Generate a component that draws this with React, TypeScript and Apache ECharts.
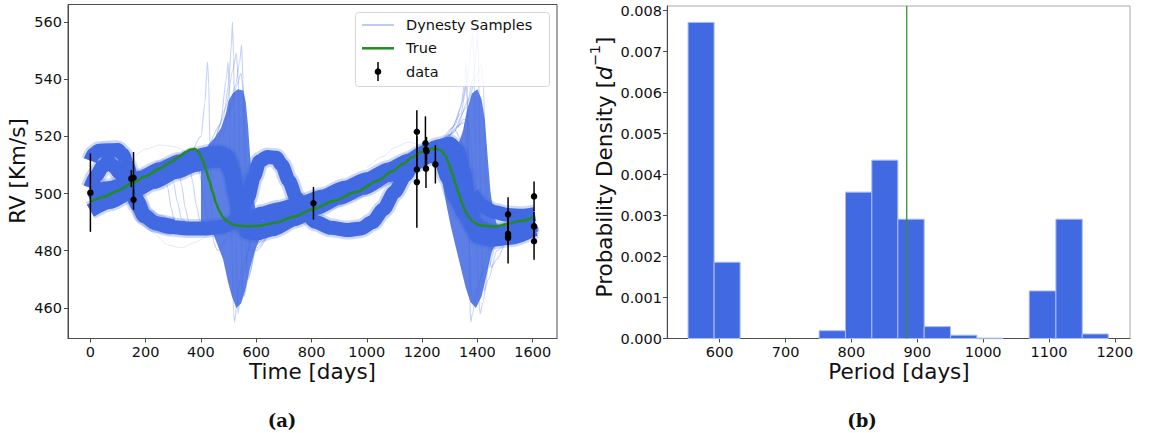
import React, { useEffect, useRef } from "react";
import * as echarts from "echarts";

// ---------- Observed RV data (days, km/s, error) ----------
const obsT = [0, 148, 156, 156, 807, 1181, 1181, 1181, 1212, 1214, 1216, 1214, 1248, 1511, 1511, 1511, 1511, 1605, 1605, 1605];
const obsRV = [500.3, 505.2, 505.5, 497.8, 496.6, 521.6, 508.4, 504.0, 517.6, 515.3, 514.8, 508.7, 510.2, 492.7, 485.9, 485.0, 484.5, 499.0, 488.5, 483.3];
const obsErr = [13.7, 3, 9, 3.5, 5.7, 7.5, 5, 16, 9.4, 4, 5, 6.8, 6.7, 6, 4, 3, 9, 5.2, 5, 6.5];

// ---------- True RV curve ----------
const trueT = [0, 50, 100, 148, 200, 250, 290, 320, 345, 362, 378, 392, 406, 418, 430, 442, 455, 467, 479, 495, 515, 540, 569, 610, 671, 740, 807, 880, 960, 1040, 1092, 1130, 1164, 1195, 1220, 1240, 1255, 1270, 1284, 1297, 1309, 1321, 1333, 1345, 1357, 1369, 1387, 1405, 1430, 1455, 1485, 1513, 1560, 1605];
const trueV = [497.0, 498.9, 501.0, 503.5, 506.0, 508.7, 510.9, 512.8, 514.5, 515.4, 515.6, 514.5, 511.8, 508.3, 504.6, 500.5, 496.5, 493.8, 491.8, 490.2, 489.2, 488.7, 488.5, 488.7, 489.9, 492.0, 494.6, 497.4, 500.5, 504.5, 507.8, 510.3, 512.6, 514.4, 515.3, 515.7, 515.6, 515.0, 513.3, 510.4, 507.0, 503.4, 499.8, 496.4, 493.7, 491.7, 490.0, 489.0, 488.6, 488.5, 488.8, 489.5, 490.5, 491.7];

// ---------- Dynesty sample curves (dense representative samples) ----------
const bandA = [[0,511.5],[12,513.8],[30,515],[100,515.2],[118,513.6],[135,509.5],[152,503.5],[170,497.5],[195,492.5],[230,489.8],[280,488.4],[350,487.8],[420,487.8],[470,488.3],[510,489.5],[545,493],[570,498.5],[592,506],[612,511.3],[640,512.8],[672,512.5],[692,510],[718,504.5],[745,498.5],[775,493.5],[815,490],[870,488],[930,487.2],[980,487.8],[1020,490],[1060,494.5],[1100,500.5],[1140,506.5],[1175,511.5],[1210,514.3],[1245,514.2],[1268,511.5],[1292,505.5],[1320,498.5],[1355,492.5],[1400,488.5],[1460,486.5],[1530,486.6],[1608,489.8]];
const bandA2 = [[0,502],[20,506.2],[45,509.5],[65,511.3],[85,509.5],[105,507.2],[125,505.3],[145,501.5],[170,496],[195,492],[240,489.5],[300,488.5]];
const bandB = [[0,497.5],[60,499.5],[130,502.5],[200,505.5],[280,509],[350,511.5],[420,513],[470,513.5],[500,512],[520,505],[535,496],[550,490],[575,487.5],[620,488],[700,491],[780,494.5],[860,497.5],[950,501],[1040,505],[1120,509],[1190,512.5],[1240,515],[1285,516],[1315,513],[1340,505],[1360,495],[1380,488.5],[1410,485.5],[1470,485.2],[1540,486.5],[1608,489]];
const bandC = [[0,500.5],[60,501.8],[120,503],[180,505.5],[250,508.5],[320,511.2],[380,513],[430,514],[470,514.3],[495,513],[515,508],[530,500],[545,492.5],[560,490.5],[580,491.5],[620,493],[680,494.5],[760,496.5],[840,499],[920,502],[1000,505],[1080,508.5],[1150,511.5],[1210,514.5],[1260,516.5],[1300,517.5],[1330,515],[1350,508],[1370,498],[1390,490],[1420,486.5],[1480,486.3],[1550,487.5],[1608,490]];
const bandD = [[0,494],[70,497],[150,500.5],[230,504],[310,507.5],[380,510],[440,511.5],[480,511.5],[505,508.5],[525,500],[545,491.5],[565,486.5],[600,486],[660,487.5],[740,491],[820,495],[900,498.5],[990,502],[1080,506.5],[1160,510],[1230,513],[1280,515],[1310,513],[1335,506],[1355,497],[1375,489.5],[1400,485],[1450,483.8],[1520,484.5],[1608,487.5]];
const bandE = [[1380,500],[1420,495.5],[1460,493.5],[1510,492.5],[1560,492.2],[1608,492.8]];

// dense envelopes of the high-eccentricity samples near periastron
const denseRegion1 = [[400,512],[420,516],[450,519.5],[473,523],[490,528],[500,532.5],[515,535],[533,536.5],[553,536],[562,532],[570,524],[578,513],[588,501],[600,492],[615,487],[610,483.5],[595,480],[578,474],[560,466],[545,461.5],[528,460],[512,464],[498,469],[480,477],[460,482],[440,487],[420,489],[400,490]];
const denseRegion2 = [[1270,514],[1300,515],[1330,517],[1348,522],[1362,529],[1380,535],[1400,536.5],[1415,533],[1427,526],[1437,513],[1447,501],[1458,493],[1475,488],[1470,484],[1450,479],[1432,471],[1415,464],[1395,460],[1375,462],[1358,467],[1340,474],[1320,482],[1305,488],[1290,495],[1275,503],[1265,510]];

// individual thin samples
const spike1 = [[440,515],[480,526],[500,538],[510,552],[514,560],[518,548],[522,520],[526,490],[530,468],[534,458],[540,462],[555,473],[580,484],[620,488]];
const spike2 = [[460,517],[500,528],[525,538],[540,546],[547,552],[552,540],[557,510],[562,485],[568,470],[576,472],[600,482],[640,487]];
const spike3 = [[420,514],[470,524],[492,540],[498,546],[503,535],[508,505],[513,478],[518,458],[522,455],[530,462],[550,475],[590,486]];
const spike4 = [[400,513],[450,519],[490,530],[515,543],[528,549],[535,540],[540,515],[545,488],[550,470],[556,464],[570,470],[600,481],[650,487]];
const spike5 = [[360,512],[400,520],[415,532],[421,543],[424,546],[428,538],[433,515],[438,495],[445,483],[460,480],[500,485],[540,488]];
const spike6 = [[480,520],[510,530],[530,538],[545,542],[555,535],[560,520],[565,500],[570,487],[578,480],[600,480],[640,485]];
const spike7 = [[1300,520],[1340,528],[1365,540],[1378,552],[1383,556],[1388,545],[1393,515],[1398,485],[1403,465],[1410,458],[1420,462],[1440,474],[1470,483],[1520,487]];
const spike8 = [[1320,522],[1360,530],[1385,540],[1396,550],[1400,557],[1404,547],[1408,520],[1413,490],[1418,472],[1425,466],[1440,470],[1470,480],[1520,486]];
const spike9 = [[1280,518],[1320,524],[1345,532],[1358,538],[1363,533],[1367,510],[1370,480],[1373,462],[1376,455],[1382,458],[1400,468],[1440,480],[1500,486]];
const spike10 = [[1260,516],[1310,523],[1340,530],[1355,540],[1360,546],[1364,535],[1368,505],[1372,478],[1378,465],[1390,462],[1420,472],[1460,482]];
const spike11 = [[1330,523],[1370,533],[1395,541],[1415,545],[1422,538],[1428,515],[1433,495],[1440,480],[1450,474],[1470,477],[1510,484],[1560,488]];
const drop1 = [[200,506],[250,508.5],[268,507],[280,502],[292,495],[305,490],[330,488]];
const drop2 = [[250,508.5],[300,511],[318,509],[330,503],[343,495],[356,490],[380,488]];
const drop3 = [[280,509.5],[340,512.5],[358,510.5],[370,504],[383,496],[396,490.5],[420,488.5]];
const drop4 = [[300,510.5],[370,513.5],[388,511.5],[400,505],[412,497],[425,491],[450,489]];
const drop5 = [[220,507],[270,509.5],[285,508],[300,504],[315,497],[330,491],[360,488.5]];
const drop6 = [[1200,514],[1250,517],[1290,519.5],[1320,522],[1340,519],[1352,510],[1362,498],[1372,490],[1400,486]];
const drop7 = [[1220,515],[1270,518.5],[1310,521],[1335,524],[1352,525],[1362,517],[1372,503],[1382,492],[1410,486]];
const drop8 = [[1240,516],[1290,520],[1330,523.5],[1350,526],[1368,525],[1378,515],[1388,500],[1398,490],[1430,486]];
const faint1 = [[150,512],[200,515.5],[250,517],[300,516.5],[350,514.5]];
const faint2 = [[1000,509],[1060,513],[1100,516],[1150,518],[1190,517]];
const faint3 = [[180,494],[230,486],[280,482],[330,481],[380,483],[430,486]];
const faint4 = [[20,516],[50,518],[90,518.5],[115,517]];

// ---------- Period posterior histogram ----------
const histEdges = [552, 591.5, 631, 671, 711, 751, 791, 831, 870.5, 910.5, 950.5, 990.5, 1030, 1070, 1110.5, 1150.5, 1190];
const histDensity = [0.00771, 0.00186, 0, 0, 0, 0.00019, 0.00357, 0.00435, 0.00291, 0.00029, 0.00008, 0.00001, 0, 0.00116, 0.00291, 0.00011];
const truePeriod = 884;

const BLUE = "#4169E1";
const GREEN = "#228B22";
const FONT = "DejaVu Sans";

export default function App() {
  const ref = useRef<HTMLDivElement>(null);
  useEffect(() => {
    document.body.style.margin = "0";
    if (!ref.current) return;
    const chart = echarts.init(ref.current, null, { renderer: "svg" });

    const thick = [bandA, bandA2, bandB, bandC, bandD, bandE];
    const thin = [spike1, spike2, spike3, spike4, spike5, spike6, spike7, spike8, spike9, spike10, spike11, drop1, drop2, drop3, drop4, drop5, drop6, drop7, drop8];
    const faint = [faint1, faint2, faint3, faint4];

    const lineBase = (d: number[][], width: number, opacity: number, z: number) => ({
      type: "line",
      xAxisIndex: 0,
      yAxisIndex: 0,
      data: d,
      showSymbol: false,
      smooth: 0.25,
      smoothMonotone: "x",
      silent: true,
      z,
      lineStyle: { color: BLUE, width, opacity, cap: "butt", join: "round" },
    });

    const tickLabel = { fontFamily: FONT, fontSize: 14.5, color: "#111" };
    const plain = (v: number) => String(v);

    const option: any = {
      animation: false,
      grid: [
        { left: 68, top: 4.5, width: 489, height: 334, show: true, borderColor: "#4d4d4d", borderWidth: 1, backgroundColor: "transparent" },
        { left: 667, top: 6, width: 463, height: 332.5, show: true, borderColor: "#a8a8a8", borderWidth: 1, backgroundColor: "transparent" },
      ],
      xAxis: [
        {
          type: "value", gridIndex: 0, min: -81, max: 1688, splitNumber: 8, minInterval: 200, maxInterval: 200,
          splitLine: { show: false },
          axisLine: { show: true, onZero: false, lineStyle: { color: "#4d4d4d" } },
          axisTick: { show: true, length: 4, lineStyle: { color: "#4d4d4d" } },
          axisLabel: { ...tickLabel, margin: 6, showMinLabel: false, showMaxLabel: false, formatter: plain },
        },
        {
          type: "value", gridIndex: 1, min: 520, max: 1223, splitNumber: 7, minInterval: 100, maxInterval: 100,
          splitLine: { show: false },
          axisLine: { show: true, onZero: false, lineStyle: { color: "#4d4d4d" } },
          axisTick: { show: true, length: 4, lineStyle: { color: "#4d4d4d" } },
          axisLabel: { ...tickLabel, margin: 6, showMinLabel: false, showMaxLabel: false, formatter: plain },
        },
      ],
      yAxis: [
        {
          type: "value", gridIndex: 0, min: 449.3, max: 566.1, splitNumber: 6, minInterval: 20, maxInterval: 20,
          splitLine: { show: false },
          axisLine: { show: true, onZero: false, lineStyle: { color: "#4d4d4d" } },
          axisTick: { show: true, length: 4, lineStyle: { color: "#4d4d4d" } },
          axisLabel: { ...tickLabel, margin: 6, showMinLabel: false, showMaxLabel: false, formatter: plain },
        },
        {
          type: "value", gridIndex: 1, min: 0, max: 0.00811, splitNumber: 8, minInterval: 0.001, maxInterval: 0.001,
          splitLine: { show: false },
          axisLine: { show: true, onZero: false, lineStyle: { color: "#4d4d4d" } },
          axisTick: { show: true, length: 4, lineStyle: { color: "#4d4d4d" } },
          axisLabel: { ...tickLabel, margin: 5, showMaxLabel: false, formatter: (v: number) => v.toFixed(3) },
        },
      ],
      series: [
        ...faint.map((d) => lineBase(d, 1, 0.15, 1)),
        {
          type: "custom",
          xAxisIndex: 0,
          yAxisIndex: 0,
          silent: true,
          z: 2,
          data: [[500, 500], [1370, 500]],
          encode: { x: 0, y: 1 },
          renderItem: (params: any, api: any) => {
            const poly = params.dataIndex === 0 ? denseRegion1 : denseRegion2;
            return {
              type: "polygon",
              shape: { points: poly.map((p) => api.coord(p)) },
              style: { fill: BLUE, opacity: 0.85 },
            };
          },
        },
        ...thin.map((d) => lineBase(d, 1.1, 0.3, 2)),
        ...thick.map((d) => lineBase(d, 19, 0.25, 3)),
        ...thick.map((d) => lineBase(d, 14, 1, 3)),
        {
          type: "line",
          xAxisIndex: 0,
          yAxisIndex: 0,
          data: trueT.map((t, i) => [t, trueV[i]]),
          showSymbol: false,
          smooth: 0.3,
          smoothMonotone: "x",
          silent: true,
          z: 6,
          lineStyle: { color: GREEN, width: 2.5 },
        },
        {
          type: "custom",
          xAxisIndex: 0,
          yAxisIndex: 0,
          silent: true,
          z: 7,
          data: obsT.map((t, i) => [t, obsRV[i], obsErr[i]]),
          encode: { x: 0, y: 1 },
          renderItem: (params: any, api: any) => {
            const t = api.value(0), v = api.value(1), e = api.value(2);
            const p1 = api.coord([t, v - e]);
            const p2 = api.coord([t, v + e]);
            return { type: "line", shape: { x1: p1[0], y1: p1[1], x2: p2[0], y2: p2[1] }, style: { stroke: "#000", lineWidth: 1.5 } };
          },
        },
        {
          type: "scatter",
          xAxisIndex: 0,
          yAxisIndex: 0,
          data: obsT.map((t, i) => [t, obsRV[i]]),
          symbolSize: 6.5,
          itemStyle: { color: "#000", opacity: 1 },
          silent: true,
          z: 8,
        },
        {
          type: "custom",
          xAxisIndex: 1,
          yAxisIndex: 1,
          silent: true,
          z: 3,
          data: histDensity.map((d, i) => [histEdges[i], histEdges[i + 1], d]),
          encode: { x: [0, 1], y: 2 },
          renderItem: (params: any, api: any) => {
            const lo = api.value(0), hi = api.value(1), d = api.value(2);
            if (d <= 0) return null;
            const p0 = api.coord([lo, 0]);
            const p1 = api.coord([hi, d]);
            return {
              type: "rect",
              shape: { x: p0[0], y: p1[1], width: p1[0] - p0[0], height: Math.max(p0[1] - p1[1], 0.6) },
              style: { fill: BLUE, stroke: "#a9bcf2", lineWidth: 1 },
            };
          },
        },
        {
          type: "line",
          xAxisIndex: 1,
          yAxisIndex: 1,
          data: [[truePeriod, 0], [truePeriod, 0.00811]],
          showSymbol: false,
          silent: true,
          z: 5,
          lineStyle: { color: "#3a8f3a", width: 1.3 },
        },
      ],
      graphic: [
        { type: "text", x: 17, y: 171, rotation: Math.PI / 2, style: { text: "RV [Km/s]", font: `21.5px "${FONT}"`, fill: "#111", align: "center", verticalAlign: "middle" } },
        { type: "text", x: 312.5, y: 371, style: { text: "Time [days]", font: `21.5px "${FONT}"`, fill: "#111", align: "center", verticalAlign: "middle" } },
        { type: "text", x: 899, y: 371, style: { text: "Period [days]", font: `21.5px "${FONT}"`, fill: "#111", align: "center", verticalAlign: "middle" } },
        {
          type: "text", x: 601, y: 167, rotation: Math.PI / 2,
          style: {
            text: "{n|Probability Density [}{i|d}{s|−1}{n|]}",
            align: "center", verticalAlign: "middle", fill: "#111",
            rich: {
              n: { fontFamily: FONT, fontSize: 21.5, lineHeight: 28, verticalAlign: "bottom", fill: "#111" },
              i: { fontFamily: FONT, fontSize: 21.5, fontStyle: "italic", lineHeight: 28, verticalAlign: "bottom", fill: "#111" },
              s: { fontFamily: FONT, fontSize: 14.5, lineHeight: 16, verticalAlign: "top", fill: "#111" },
            },
          },
        },
        { type: "text", x: 282, y: 420, style: { text: "(a)", font: `bold 18px "DejaVu Serif"`, fill: "#111", align: "center", verticalAlign: "middle" } },
        { type: "text", x: 862, y: 420, style: { text: "(b)", font: `bold 18px "DejaVu Serif"`, fill: "#111", align: "center", verticalAlign: "middle" } },
        { type: "rect", shape: { x: 355.5, y: 12.5, width: 194, height: 74, r: 3 }, style: { fill: "rgba(255,255,255,0.8)", stroke: "#d6d6d6", lineWidth: 1 }, z: 20 },
        { type: "line", shape: { x1: 362, y1: 25, x2: 394, y2: 25 }, style: { stroke: "rgba(65,105,225,0.45)", lineWidth: 1.5 }, z: 21 },
        { type: "line", shape: { x1: 362, y1: 48.3, x2: 394, y2: 48.3 }, style: { stroke: GREEN, lineWidth: 2.5 }, z: 21 },
        { type: "line", shape: { x1: 378, y1: 62, x2: 378, y2: 81 }, style: { stroke: "#000", lineWidth: 1.5 }, z: 21 },
        { type: "circle", shape: { cx: 378, cy: 71.7, r: 3.3 }, style: { fill: "#000" }, z: 22 },
        { type: "text", x: 406, y: 25, style: { text: "Dynesty Samples", font: `14.5px "${FONT}"`, fill: "#111", align: "left", verticalAlign: "middle" }, z: 21 },
        { type: "text", x: 406, y: 48.3, style: { text: "True", font: `14.5px "${FONT}"`, fill: "#111", align: "left", verticalAlign: "middle" }, z: 21 },
        { type: "text", x: 406, y: 71.7, style: { text: "data", font: `14.5px "${FONT}"`, fill: "#111", align: "left", verticalAlign: "middle" }, z: 21 },
      ],
    };

    chart.setOption(option);
    return () => chart.dispose();
  }, []);

  return <div ref={ref} style={{ width: 1149, height: 433 }} />;
}
